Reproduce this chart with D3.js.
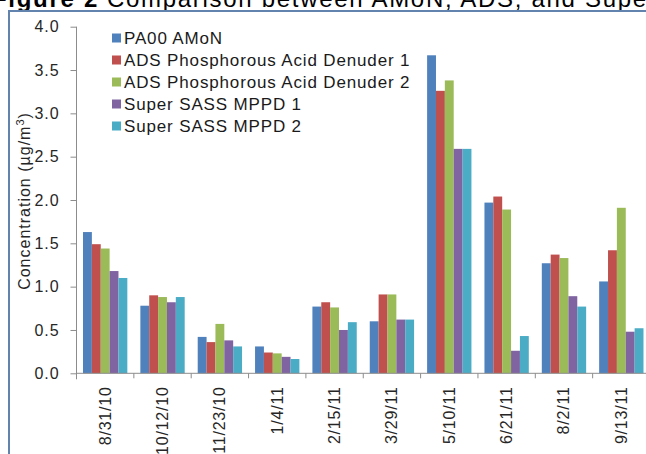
<!DOCTYPE html>
<html>
<head>
<meta charset="utf-8">
<script src="https://cdn.jsdelivr.net/npm/d3@7"></script>
<style>
  html, body { margin: 0; padding: 0; background: #fff; overflow: hidden; }
  text { font-family: "Liberation Sans", Arial, sans-serif; }
</style>
</head>
<body>
<svg id="chart" width="646" height="454"></svg>
<script>
const categories = ["8/31/10","10/12/10","11/23/10","1/4/11","2/15/11","3/29/11","5/10/11","6/21/11","8/2/11","9/13/11"];
const seriesNames = ["PA00 AMoN","ADS Phosphorous Acid Denuder 1","ADS Phosphorous Acid Denuder 2","Super SASS MPPD 1","Super SASS MPPD 2"];
const pa00Amon   = [1.63, 0.78, 0.42, 0.31, 0.77, 0.60, 3.67, 1.97, 1.27, 1.06];
const adsDen1    = [1.49, 0.90, 0.36, 0.24, 0.82, 0.91, 3.26, 2.04, 1.37, 1.42];
const adsDen2    = [1.44, 0.88, 0.57, 0.23, 0.76, 0.91, 3.38, 1.89, 1.33, 1.91];
const superSass1 = [1.18, 0.82, 0.38, 0.19, 0.50, 0.62, 2.59, 0.26, 0.89, 0.48];
const superSass2 = [1.10, 0.88, 0.31, 0.165, 0.59, 0.62, 2.59, 0.43, 0.77, 0.52];
const yTicks = [0, 0.5, 1.0, 1.5, 2.0, 2.5, 3.0, 3.5, 4.0];
const colors = ["#4F81BD","#C0504D","#9BBB59","#8064A2","#4BACC6"];

const seriesValues = [pa00Amon, adsDen1, adsDen2, superSass1, superSass2];

const svg = d3.select("#chart");

// Title (cut off at top, as in the source)
const title = svg.append("text").attr("x", -8).attr("y", 7)
  .attr("font-size", 24).attr("fill", "#000").attr("letter-spacing", 1.7);
title.append("tspan").attr("font-weight", "bold").text("Figure 2 ");
title.append("tspan").attr("x", 107).text("Comparison between AMoN, ADS, and Super SASS");

// Frame
svg.append("path")
  .attr("d", "M9,460 L9,11 L660,11")
  .attr("fill", "none").attr("stroke", "#6283ad").attr("stroke-width", 2);

const x0 = 76.5, x1 = 650, yBottom = 373.3, yTop = 26.7;

const x = d3.scaleBand().domain(categories).range([x0, x1])
  .paddingInner(0.227).paddingOuter(0.1135);
const xs = d3.scaleBand().domain(d3.range(seriesNames.length)).range([0, x.bandwidth()]);
const y = d3.scaleLinear().domain([0, 4]).range([yBottom, yTop]);

// Bars
const groups = svg.append("g").selectAll("g").data(categories).join("g")
  .attr("transform", c => `translate(${x(c)},0)`);
groups.selectAll("rect")
  .data((c, i) => seriesValues.map((vals, s) => ({ s, v: vals[i] })))
  .join("rect")
  .attr("x", d => xs(d.s))
  .attr("width", xs.bandwidth())
  .attr("y", d => y(d.v))
  .attr("height", d => y(0) - y(d.v))
  .attr("fill", d => colors[d.s]);

// Y axis
const yAxis = svg.append("g").attr("transform", `translate(${x0},0)`)
  .call(d3.axisLeft(y).tickValues(yTicks).tickFormat(d3.format(".1f")).tickSize(6).tickPadding(11));
yAxis.select(".domain").attr("stroke", "#8c8c8c").attr("d", `M0,${yTop}V${yBottom + 6}`);
yAxis.selectAll(".tick line").attr("stroke", "#8c8c8c");
yAxis.selectAll(".tick text").attr("font-size", 16).attr("fill", "#262626")
  .attr("letter-spacing", 0.9).attr("font-family", "Liberation Sans, Arial, sans-serif");

// X axis
const step = x.step();
const xAxisG = svg.append("g").attr("transform", `translate(0,${yBottom})`);
xAxisG.append("line").attr("x1", x0).attr("x2", x1).attr("y1", 0).attr("y2", 0).attr("stroke", "#8c8c8c");
xAxisG.selectAll("line.tk").data(categories).join("line").attr("class", "tk")
  .attr("x1", c => x(c) - step * 0.1135 + step).attr("x2", c => x(c) - step * 0.1135 + step)
  .attr("y1", 0).attr("y2", 5).attr("stroke", "#8c8c8c");
xAxisG.selectAll("text").data(categories).join("text")
  .attr("transform", c => `translate(${x(c) + x.bandwidth() / 2 + 5.5},13) rotate(-90)`)
  .attr("text-anchor", "end")
  .attr("font-size", 16).attr("fill", "#262626").attr("letter-spacing", 0.8)
  .text(c => c);

// Y axis title
const yt = svg.append("text")
  .attr("transform", `translate(30,201) rotate(-90)`)
  .attr("text-anchor", "middle").attr("font-size", 16).attr("fill", "#262626")
  .attr("letter-spacing", 1.0);
yt.append("tspan").text("Concentration (µg/m");
yt.append("tspan").attr("font-size", 11).attr("dy", -6).text("3");
yt.append("tspan").attr("dy", 6).text(")");

// Legend
const legend = svg.append("g").selectAll("g").data(seriesNames).join("g")
  .attr("transform", (d, i) => `translate(112,${38 + i * 22})`);
legend.append("rect").attr("x", 0).attr("y", -4.5).attr("width", 9).attr("height", 9)
  .attr("fill", (d, i) => colors[i]);
legend.append("text").attr("x", 12).attr("dy", "0.36em")
  .attr("font-size", 17).attr("fill", "#1a1a1a").attr("letter-spacing", 0.85)
  .text(d => d);
</script>
</body>
</html>
